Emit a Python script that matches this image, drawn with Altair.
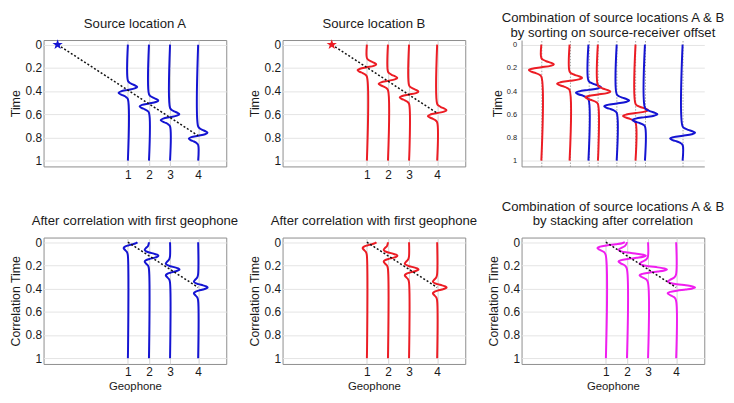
import altair as alt
import pandas as pd

# ---------------- data ----------------
GEOPHONE_X = [10, 13, 16, 20]
GEOPHONE_LABELS = ["1", "2", "3", "4"]
SOURCE_A_X = 0
SOURCE_B_X = 5
ARRIVAL_A = [0.39, 0.507, 0.625, 0.785]
ARRIVAL_B = [0.195, 0.312, 0.43, 0.59]
CORR_LAG = [0.0, 0.117, 0.235, 0.39]
TIME_TICKS = [0, 0.2, 0.4, 0.6, 0.8, 1]

# source wavelet (time offset from arrival, normalised amplitude)
WAVELET_DT = [-0.08, -0.0625, -0.05, -0.0375, -0.025, -0.0125, 0.0,
              0.0125, 0.025, 0.0375, 0.05, 0.0625, 0.08]
WAVELET_AMP = [0.0, 0.18, 0.45, 0.8, 1.0, 0.73, 0.0,
               -0.73, -1.0, -0.8, -0.45, -0.18, 0.0]
# correlation wavelet
CORR_DT = [-0.11, -0.085, -0.065, -0.05, -0.038, -0.028, -0.018, -0.009, 0.0,
           0.009, 0.018, 0.028, 0.038, 0.05, 0.065, 0.085, 0.11]
CORR_AMP = [-0.01, -0.1, -0.33, -0.45, -0.3, 0.04, 0.51, 0.86, 1.0,
            0.86, 0.51, 0.04, -0.3, -0.45, -0.33, -0.1, -0.01]

WAVELET_SCALE = 1.33
CORR_SCALE = 1.35
STACK_SCALE = 2.7

BLUE = "#1414d2"
RED = "#ec1c24"
MAGENTA = "#f01ef0"
FONT = "Liberation Sans"
TXT = "#1a1a1a"
FRAME = "#8c8c8c"

STAR = ("M0,-1L0.235,-0.324L0.951,-0.309L0.38,0.124L0.588,0.809L0,0.4"
        "L-0.588,0.809L-0.38,0.124L-0.951,-0.309L-0.235,-0.324Z")

W = 185
H = 128
X_DOMAIN = [-2, 24]
X_DOMAIN_SORTED = [2.9, 22.3]
Y_DOMAIN = [-0.04, 1.05]


def wiggle(trace_id, x0, center, dts, amps, scale, color):
    pts = [(center + dt, x0 + scale * a) for dt, a in zip(dts, amps) if center + dt >= 0]
    if pts[0][0] > 0:
        pts = [(0.0, x0)] + pts
    if pts[-1][0] < 1:
        pts = pts + [(1.0, x0)]
    return [{"trace": trace_id, "i": i, "t": t, "x": x, "color": color}
            for i, (t, x) in enumerate(pts)]


def traces(xs, centers, dts, amps, scale, colors):
    rows = []
    for k, (x0, c, col) in enumerate(zip(xs, centers, colors)):
        rows += wiggle(k, x0, c, dts, amps, scale, col)
    return pd.DataFrame(rows)


def line2(x_a, t_a, x_b, t_b):
    return pd.DataFrame({"i": [0, 1], "x": [x_a, x_b], "t": [t_a, t_b]})


def y_axis(title, small=False):
    return alt.Axis(values=TIME_TICKS, format="~g", title=title,
                    labelFontSize=7.5 if small else 12, labelPadding=5 if small else 2,
                    titleFontSize=12.5, titleFontWeight="normal", titlePadding=2 if small else 3,
                    labelFont=FONT, titleFont=FONT, labelColor=TXT, titleColor=TXT,
                    ticks=False, domain=small, domainColor=FRAME,
                    grid=True, gridColor="#e4e4e4", gridWidth=1)


def x_axis(title):
    expr = "%s[indexof(%s, datum.value)]" % (
        "[" + ",".join("'%s'" % s for s in GEOPHONE_LABELS) + "]",
        "[" + ",".join(str(v) for v in GEOPHONE_X) + "]")
    kw = dict(values=GEOPHONE_X, labelExpr=expr, labelAngle=0, labelFontSize=12,
              labelPadding=3, labelFont=FONT, labelColor=TXT, titleFont=FONT,
              titleFontSize=11.5, titleFontWeight="normal", titleColor=TXT, titlePadding=3,
              ticks=False, domain=False, grid=True, gridColor="#d4d4d4", gridWidth=1)
    if title:
        return alt.Axis(title=title, **kw)
    return alt.Axis(title=None, **kw)


def panel(df, title_text, title_offset, title_size, xdom, xax, yax, moveout=None, star=None,
          star_color=None, boxed=True):
    xenc = alt.X("x:Q", scale=alt.Scale(domain=xdom, nice=False, zero=False), axis=xax)
    yenc = alt.Y("t:Q", scale=alt.Scale(domain=Y_DOMAIN, reverse=True, nice=False, zero=False), axis=yax)
    layers = [
        alt.Chart(df).mark_line(strokeWidth=2, interpolate="catmull-rom").encode(
            x=xenc, y=yenc, detail="trace:N", order="i:Q",
            color=alt.Color("color:N", scale=None))
    ]
    if moveout is not None:
        layers.append(alt.Chart(moveout).mark_line(color="#111111", strokeWidth=1.5,
                                                    strokeDash=[2, 2]).encode(
            x=xenc, y=yenc, order="i:Q"))
    if star is not None:
        layers.append(alt.Chart(star).mark_point(shape=STAR, filled=True, size=120,
                                                 opacity=1, color=star_color).encode(
            x=xenc, y=yenc))
    ch = alt.layer(*layers).properties(
        width=W, height=H,
        title=alt.TitleParams(text=title_text, fontSize=title_size, font=FONT,
                              fontWeight="normal", color=TXT, offset=title_offset,
                              lineHeight=14.5))
    if boxed:
        ch = ch.properties(view=alt.ViewBackground(stroke=FRAME, strokeWidth=1))
    else:
        ch = ch.properties(view=alt.ViewBackground(stroke="transparent"))
    return ch


# panel 1: source A
df1 = traces(GEOPHONE_X, ARRIVAL_A, WAVELET_DT, WAVELET_AMP, WAVELET_SCALE, [BLUE] * 4)
p1 = panel(df1, "Source location A", 9, 13.3, X_DOMAIN, x_axis(None), y_axis("Time"),
           moveout=line2(SOURCE_A_X, 0, GEOPHONE_X[3], ARRIVAL_A[3]),
           star=pd.DataFrame({"x": [SOURCE_A_X], "t": [0]}), star_color=BLUE)

# panel 2: source B
df2 = traces(GEOPHONE_X, ARRIVAL_B, WAVELET_DT, WAVELET_AMP, WAVELET_SCALE, [RED] * 4)
p2 = panel(df2, "Source location B", 9, 13.3, X_DOMAIN, x_axis(None), y_axis("Time"),
           moveout=line2(SOURCE_B_X, 0, GEOPHONE_X[3], ARRIVAL_B[3]),
           star=pd.DataFrame({"x": [SOURCE_B_X], "t": [0]}), star_color=RED)

# panel 3: sorted by offset
offs = [g - SOURCE_A_X for g in GEOPHONE_X] + [g - SOURCE_B_X for g in GEOPHONE_X]
arrs = ARRIVAL_A + ARRIVAL_B
cols = [BLUE] * 4 + [RED] * 4
order = sorted(range(8), key=lambda k: offs[k])
df3 = traces([offs[k] for k in order], [arrs[k] for k in order], WAVELET_DT, WAVELET_AMP,
             WAVELET_SCALE, [cols[k] for k in order])
x3 = alt.Axis(values=sorted(offs), labels=False, ticks=False, title=None, domain=True,
              domainColor=FRAME, grid=True, gridColor="#8c8c8c", gridDash=[1.5, 1.5],
              gridWidth=0.8)
p3 = panel(df3, ["Combination of source locations A & B",
                 "by sorting on source-receiver offset"], 1, 13.3, X_DOMAIN_SORTED, x3,
           y_axis("Time", small=True), boxed=False)

# row 2: correlations
mo = line2(GEOPHONE_X[0], 0, GEOPHONE_X[3], CORR_LAG[3])
df4 = traces(GEOPHONE_X, CORR_LAG, CORR_DT, CORR_AMP, CORR_SCALE, [BLUE] * 4)
p4 = panel(df4, "After correlation with first geophone", 9, 13.3, X_DOMAIN,
           x_axis("Geophone"), y_axis("Correlation Time"), moveout=mo)
df5 = traces(GEOPHONE_X, CORR_LAG, CORR_DT, CORR_AMP, CORR_SCALE, [RED] * 4)
p5 = panel(df5, "After correlation with first geophone", 9, 13.3, X_DOMAIN,
           x_axis("Geophone"), y_axis("Correlation Time"), moveout=mo)
df6 = traces(GEOPHONE_X, CORR_LAG, CORR_DT, CORR_AMP, STACK_SCALE, [MAGENTA] * 4)
p6 = panel(df6, ["Combination of source locations A & B", "by stacking after correlation"], 9,
           13.3, X_DOMAIN, x_axis("Geophone"), y_axis("Correlation Time"), moveout=mo)

chart = alt.concat(p1, p2, p3, p4, p5, p6, columns=3,
                   spacing={"row": 72, "column": 57}, bounds="flush",
                   padding=0).configure_view(stroke=FRAME, strokeWidth=1)

chart.save("out.html", embed_options={"renderer": "svg", "actions": False})
